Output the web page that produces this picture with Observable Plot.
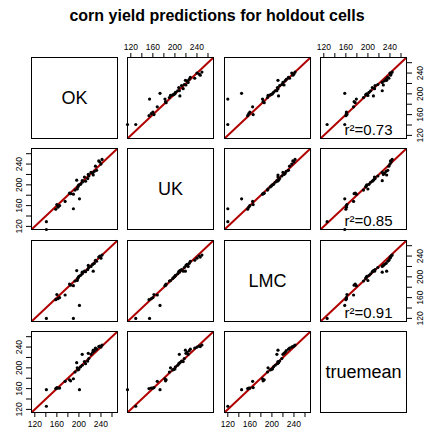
<!DOCTYPE html>
<html><head><meta charset="utf-8">
<script src="https://cdn.jsdelivr.net/npm/d3@7"></script>
<script src="https://cdn.jsdelivr.net/npm/@observablehq/plot@0.6"></script>
<style>
body{margin:0;background:#fff;}
#chart{position:relative;width:426px;height:433px;font-family:"Liberation Sans",Arial,sans-serif;overflow:hidden;}
#title{position:absolute;left:0;width:434px;top:8px;line-height:16px;text-align:center;font-weight:bold;font-size:16px;color:#000;}
.panel{position:absolute;}
</style></head><body>
<div id="chart"><div id="title">corn yield predictions for holdout cells</div></div>
<script>
// variable names (diagonal labels)
const varNames = ["OK", "UK", "LMC", "truemean"];
// predictions and truth for the holdout cells (null = missing)
const OK       = [141, 141, 201, 190, 158, 162, 165, 160, 175, 185, 183, 190, 193, 198, 199, 200, 197, 203, 206, 212, 196, 216, 210, 218, 206, 217, 222, 225, 228, 226, 232, 230, 240, 238, 236, 242];
const UK       = [129, 114, 173, 154, 153, 157, 160, 162, 168, 183, 184, 182, 190, 196, 198, 200, 192, 201, 205, 207, 209, 212, 215, 217, 208, 220, 224, 222, 226, 219, 228, 236, 240, 244, 246, 249];
const LMC      = [120, null, 145, 120, 156, 158, 160, 166, 165, 184, 186, 183, 192, 197, 199, 201, 193, 203, 206, 210, 212, 214, 211, 218, 209, 222, 220, 224, 226, 211, 230, 232, 236, 240, 238, 242];
const truemean = [126, 158, 158, null, 160, 161, 161, 162, 174, 175, 177, 179, 192, 196, 197, 198, 200, 202, 205, 208, 210, 213, 212, 218, 226, 228, 226, 230, 233, 234, 236, 238, 240, 242, 241, 244];
const vars = [OK, UK, LMC, truemean];
// r^2 labels shown in the upper panels of the truemean column
const r2Labels = ["r\u00b2=0.73", "r\u00b2=0.85", "r\u00b2=0.91"];
// shared axis limits and ticks
const lims = [114, 270];
const tickVals = [120, 140, 160, 180, 200, 220, 240, 260];
const tickLabels = [120, 160, 200, 240];

const M = 30, PW = 86, PH = 81;
const colLeft = j => 31 + j * 96.4;
const rowTop = i => 57 + i * 91.3;
const fmt = d => tickLabels.includes(d) ? String(d) : "";
const chart = document.getElementById("chart");

for (let i = 0; i < 4; i++) {
  for (let j = 0; j < 4; j++) {
    const marks = [];
    if (i === j) {
      marks.push(Plot.text([varNames[i]], {frameAnchor: "middle", fontSize: 18, fill: "#000"}));
    } else {
      const pts = d3.range(OK.length)
        .map(k => ({x: vars[j][k], y: vars[i][k]}))
        .filter(d => d.x != null && d.y != null);
      marks.push(Plot.link([lims], {x1: d => d[0], y1: d => d[0], x2: d => d[1], y2: d => d[1], stroke: "#b00000", strokeWidth: 2}));
      marks.push(Plot.dot(pts, {x: "x", y: "y", r: 1.6, fill: "#000", stroke: null}));
      if (j === 3 && i < 3) {
        marks.push(Plot.text([r2Labels[i]], {frameAnchor: "bottom-right", dx: -14, dy: -4, fontSize: 15, fill: "#000"}));
      }
    }
    marks.push(Plot.frame({stroke: "#000", strokeWidth: 1}));
    if (i === 0 && (j === 1 || j === 3)) {
      marks.push(Plot.axisX({anchor: "top", ticks: tickVals, tickFormat: fmt, tickSize: 5, tickPadding: 3, fontSize: 8.5, label: null}));
    }
    if (i === 3 && (j === 0 || j === 2)) {
      marks.push(Plot.axisX({anchor: "bottom", ticks: tickVals, tickFormat: fmt, tickSize: 5, tickPadding: 3, fontSize: 8.5, label: null}));
    }
    if (j === 0 && (i === 1 || i === 3)) {
      marks.push(Plot.axisY({anchor: "left", ticks: tickVals, tickFormat: () => "", tickSize: 5, label: null}));
      marks.push(Plot.text(tickLabels, {y: d => d, text: d => String(d), frameAnchor: "left", dx: -12, rotate: -90, textAnchor: "middle", lineAnchor: "middle", fontSize: 8.5, fill: "#000"}));
    }
    if (j === 3 && (i === 0 || i === 2)) {
      marks.push(Plot.axisY({anchor: "right", ticks: tickVals, tickFormat: () => "", tickSize: 5, label: null}));
      marks.push(Plot.text(tickLabels, {y: d => d, text: d => String(d), frameAnchor: "right", dx: 14, rotate: -90, textAnchor: "middle", lineAnchor: "middle", fontSize: 8.5, fill: "#000"}));
    }
    const svg = Plot.plot({
      width: PW + 2 * M, height: PH + 2 * M,
      marginTop: M, marginBottom: M, marginLeft: M, marginRight: M,
      x: {domain: lims, axis: null},
      y: {domain: lims, axis: null},
      style: {background: "transparent", fontFamily: "'Liberation Sans', Arial, sans-serif", fontSize: "8.5px", color: "#000", overflow: "visible"},
      marks
    });
    svg.classList.add("panel");
    svg.style.position = "absolute";
    svg.style.left = (colLeft(j) - M) + "px";
    svg.style.top = (rowTop(i) - M) + "px";
    svg.style.maxWidth = "none";
    chart.appendChild(svg);
  }
}
</script>
</body></html>
